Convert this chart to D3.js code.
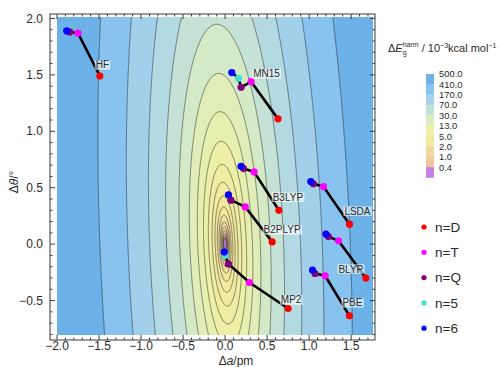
<!DOCTYPE html>
<html>
<head>
<meta charset="utf-8">
<script src="https://cdn.jsdelivr.net/npm/d3@7"></script>
<style>
  body { margin: 0; background: #fff; }
  svg text { font-family: "Liberation Sans", Arial, Helvetica, sans-serif; fill: #2a2a2a; }
</style>
</head>
<body>
<div id="chart"></div>
<script>
(function(){

  //////////////////////// data ////////////////////////

  var methods = ["HF", "MN15", "B3LYP", "B2PLYP", "MP2", "LSDA", "BLYP", "PBE"];
  var basisNames = ["n=D", "n=T", "n=Q", "n=5", "n=6"];
  var basisColors = ["#ff0000", "#ff00ff", "#800080", "#40e0d0", "#0000ff"];

  // Δa / pm and Δθ / degree for each method, one pair of arrays per basis set
  var daD = [-1.49, 0.63, 0.64, 0.56, 0.75, 1.48, 1.675, 1.48];
  var dtD = [1.49, 1.11, 0.30, 0.02, -0.57, 0.177, -0.30, -0.635];
  var daT = [-1.75, 0.31, 0.345, 0.24, 0.29, 1.17, 1.35, 1.19];
  var dtT = [1.87, 1.44, 0.64, 0.33, -0.34, 0.51, 0.03, -0.28];
  var daQ = [-1.85, 0.19, 0.22, 0.07, 0.04, 1.05, 1.23, 1.07];
  var dtQ = [1.88, 1.39, 0.67, 0.39, -0.175, 0.535, 0.067, -0.26];
  var da5 = [null, 0.16, null, null, 0.0, null, null, null];
  var dt5 = [null, 1.47, null, null, -0.10, null, null, null];
  var da6 = [-1.885, 0.08, 0.19, 0.04, -0.01, 1.02, 1.20, 1.04];
  var dt6 = [1.89, 1.52, 0.69, 0.437, -0.07, 0.555, 0.09, -0.23];

  // colour bar: band edges (10^-3 kcal/mol) and the colour of each band
  var legendEdges = [0.4, 1.0, 2.0, 5.0, 13.0, 30.0, 70.0, 170.0, 410.0, 500.0];
  var legendColors = ["#c47fe8", "#efc6a2", "#f2d89e", "#f3e99e", "#edf0a6",
                      "#dcecbd", "#c5e2d6", "#a8d3ea", "#88c2ef", "#6cb1e8"];

  // iso-lines: ellipse size (pm^2) of each ring and the energy it carries
  var ringQ = [0.000242, 0.000402, 0.000667, 0.00111, 0.00184, 0.00305, 0.00507, 0.00841,
               0.0140, 0.0232, 0.0385, 0.0639, 0.106, 0.176, 0.292, 0.485, 0.806, 1.337, 2.22];
  var ringE = [0.4, 0.55, 0.75, 1.0, 1.3, 1.7, 2.2, 2.9, 3.8, 5, 6.5, 9, 13, 20, 35, 60, 100, 170, 410];

  // shape of the ellipses: Δθ is 13x softer than Δa, with a slight tilt
  var tilt = 0.05, stretch = 13;

  var xTicks = [-2.0, -1.5, -1.0, -0.5, 0.0, 0.5, 1.0, 1.5];
  var yTicks = [-0.5, 0.0, 0.5, 1.0, 1.5, 2.0];

  // where the method name sits, in px from its n=D point
  var labelOffsets = [[2.6, -11], [-11.5, -45], [9, -13], [10, -12], [3, -8.5], [8, -13], [-15, -9], [3, -13]];

  //////////////////////// layout ////////////////////////

  var W = 499, H = 367;
  var frame = {left: 50, right: 375, top: 14, bottom: 340};

  var svg = d3.select("#chart").append("svg")
      .attr("width", W)
      .attr("height", H);

  var x = d3.scaleLinear().domain([-2.0, 1.76]).range([57, 373]);
  var y = d3.scaleLinear().domain([-0.805, 2.01]).range([335, 17.3]);

  function spread(a, t) {
    var u = a + tilt * t;
    return u * u + t * t / stretch;
  }

  // band colours come from a log scale through the legend band centres
  var mids = legendEdges.slice(0, -1).map(function(e, i){ return Math.sqrt(e * legendEdges[i + 1]); });
  var colorScale = d3.scaleLog().domain(mids).range(legendColors.slice(1)).clamp(true);

  //////////////////////// contour plot ////////////////////////

  svg.append("clipPath").attr("id", "plotClip")
    .append("rect")
      .attr("x", x.range()[0]).attr("y", y.range()[1])
      .attr("width", x.range()[1] - x.range()[0])
      .attr("height", y.range()[0] - y.range()[1]);

  // sample on a grid a bit wider than the plot, so the outer ring edges get clipped away
  var step = 0.5, pad = 3;
  var gx0 = x.range()[0] - pad, gy0 = y.range()[1] - pad;
  var nx = Math.ceil((x.range()[1] - x.range()[0] + 2 * pad) / step);
  var ny = Math.ceil((y.range()[0] - y.range()[1] + 2 * pad) / step);
  var values = new Float64Array(nx * ny);
  for (var j = 0; j < ny; j++) {
    var t = y.invert(gy0 + (j + 0.5) * step);
    for (var i = 0; i < nx; i++) {
      values[j * nx + i] = spread(x.invert(gx0 + (i + 0.5) * step), t);
    }
  }

  var contours = d3.contours().size([nx, ny]).thresholds(ringQ)(values);
  var gridPath = d3.geoPath(d3.geoIdentity().scale(step).translate([gx0, gy0]));

  var plot = svg.append("g").attr("clip-path", "url(#plotClip)");

  plot.append("rect")
      .attr("x", gx0).attr("y", gy0)
      .attr("width", nx * step).attr("height", ny * step)
      .attr("fill", legendColors[0]);

  plot.selectAll(".band")
      .data(contours)
    .enter().append("path")
      .attr("class", "band")
      .attr("d", gridPath)
      .attr("fill", function(d, i) {
        var hi = i + 1 < ringE.length ? ringE[i + 1] : 500;
        return colorScale(Math.sqrt(ringE[i] * hi));
      });

  plot.selectAll(".iso")
      .data(contours)
    .enter().append("path")
      .attr("class", "iso")
      .attr("d", gridPath)
      .attr("fill", "none")
      .attr("stroke", "#262626")
      .attr("stroke-opacity", 0.75)
      .attr("stroke-width", 0.7);

  //////////////////////// frame + ticks ////////////////////////

  var axisG = svg.append("g");
  axisG.append("rect")
      .attr("x", frame.left).attr("y", frame.top)
      .attr("width", frame.right - frame.left)
      .attr("height", frame.bottom - frame.top)
      .attr("fill", "none")
      .attr("stroke", "#3a3a3a")
      .attr("stroke-width", 1);

  function isMajor(v) { return Math.abs(v * 2 - Math.round(v * 2)) < 1e-6; }

  var xMinor = d3.range(-20, 18).map(function(k){ return k / 10; });
  var yMinor = d3.range(-8, 21).map(function(k){ return k / 10; });

  xMinor.forEach(function(v){
    var len = isMajor(v) ? 5 : 2.5, px = x(v);
    axisG.append("line").attr("x1", px).attr("x2", px)
        .attr("y1", frame.bottom).attr("y2", frame.bottom - len)
        .attr("stroke", "#3a3a3a");
    axisG.append("line").attr("x1", px).attr("x2", px)
        .attr("y1", frame.top).attr("y2", frame.top + len)
        .attr("stroke", "#3a3a3a");
  });
  yMinor.forEach(function(v){
    var len = isMajor(v) ? 5 : 2.5, py = y(v);
    axisG.append("line").attr("y1", py).attr("y2", py)
        .attr("x1", frame.left).attr("x2", frame.left + len)
        .attr("stroke", "#3a3a3a");
    axisG.append("line").attr("y1", py).attr("y2", py)
        .attr("x1", frame.right).attr("x2", frame.right - len)
        .attr("stroke", "#3a3a3a");
  });

  var fmt = d3.format(".1f");
  axisG.selectAll(".xlab")
      .data(xTicks)
    .enter().append("text")
      .attr("x", function(d){ return x(d); })
      .attr("y", 350)
      .attr("text-anchor", "middle")
      .style("font-size", "12px")
      .text(fmt);

  axisG.selectAll(".ylab")
      .data(yTicks)
    .enter().append("text")
      .attr("x", 43)
      .attr("y", function(d){ return y(d) + 4.2; })
      .attr("text-anchor", "end")
      .style("font-size", "12px")
      .text(fmt);

  var xt = axisG.append("text")
      .attr("x", 236).attr("y", 365)
      .attr("text-anchor", "middle")
      .style("font-size", "12px");
  xt.append("tspan").text("Δ");
  xt.append("tspan").style("font-style", "italic").text("a");
  xt.append("tspan").text("/pm");

  var yt = axisG.append("text")
      .attr("transform", "translate(18,182) rotate(-90)")
      .attr("text-anchor", "middle")
      .style("font-size", "12px");
  yt.append("tspan").text("Δ");
  yt.append("tspan").style("font-style", "italic").text("θ");
  yt.append("tspan").text("/°");

  //////////////////////// method paths ////////////////////////

  var seriesA = [daD, daT, daQ, da5, da6];
  var seriesT = [dtD, dtT, dtQ, dt5, dt6];

  var line = d3.line()
      .x(function(d){ return x(d[0]); })
      .y(function(d){ return y(d[1]); });

  var chains = methods.map(function(m, mi){
    var pts = [];
    seriesA.forEach(function(arr, bi){
      if (arr[mi] !== null) pts.push([arr[mi], seriesT[bi][mi], bi]);
    });
    return pts;
  });

  var marks = svg.append("g");
  marks.selectAll(".chain")
      .data(chains)
    .enter().append("path")
      .attr("class", "chain")
      .attr("d", line)
      .attr("fill", "none")
      .attr("stroke", "#000")
      .attr("stroke-width", 2.6);

  seriesA.forEach(function(arr, bi){
    marks.selectAll(".pt" + bi)
        .data(methods.map(function(m, mi){ return [arr[mi], seriesT[bi][mi]]; })
                     .filter(function(d){ return d[0] !== null; }))
      .enter().append("circle")
        .attr("class", "pt" + bi)
        .attr("cx", function(d){ return x(d[0]); })
        .attr("cy", function(d){ return y(d[1]); })
        .attr("r", 3.6)
        .attr("fill", basisColors[bi]);
  });

  // method names with a pale box behind
  methods.forEach(function(m, mi){
    var cx = x(daD[mi]) + labelOffsets[mi][0],
        cy = y(dtD[mi]) + labelOffsets[mi][1];
    var g = marks.append("g");
    var txt = g.append("text")
        .attr("x", cx).attr("y", cy + 3.5)
        .attr("text-anchor", "middle")
        .style("font-size", "10px")
        .text(m);
    var bb = txt.node().getBBox();
    g.insert("rect", "text")
        .attr("x", bb.x - 1).attr("y", cy - 4.8)
        .attr("width", bb.width + 2).attr("height", 9.6)
        .attr("fill", "#fff")
        .attr("fill-opacity", 0.6);
  });

  //////////////////////// colour bar ////////////////////////

  var bar = svg.append("g");
  var barX = 426, barW = 8, barTop = 74, bandH = 10.35;
  var bands = legendColors.slice().reverse();   // top band first
  var barLabels = legendEdges.slice().reverse();

  bar.selectAll(".cb")
      .data(bands)
    .enter().append("rect")
      .attr("x", barX)
      .attr("y", function(d, i){ return barTop + i * bandH; })
      .attr("width", barW)
      .attr("height", bandH + 0.3)
      .attr("fill", function(d){ return d; });

  bar.selectAll(".cbl")
      .data(barLabels)
    .enter().append("text")
      .attr("x", 439)
      .attr("y", function(d, i){ return barTop + i * bandH + 3.4; })
      .style("font-size", "9.4px")
      .text(fmt);

  var title = bar.append("text")
      .attr("x", 388).attr("y", 52)
      .style("font-size", "11px");
  title.append("tspan").text("Δ");
  title.append("tspan").style("font-style", "italic").text("E");
  title.append("tspan").attr("dy", 3).style("font-size", "7px").text("g");
  title.append("tspan").attr("dx", -3.9).attr("dy", -8).style("font-size", "7px").text("harm");
  title.append("tspan").attr("dy", 5).text(" / 10");
  title.append("tspan").attr("dy", -4).style("font-size", "7px").text("−3");
  title.append("tspan").attr("dy", 4).text("kcal mol");
  title.append("tspan").attr("dy", -4).style("font-size", "7px").text("−1");

  //////////////////////// basis-set legend ////////////////////////

  var leg = svg.append("g");
  basisNames.forEach(function(n, i){
    var ly = 227 + i * 25.3;
    leg.append("circle").attr("cx", 424).attr("cy", ly).attr("r", 2.6).attr("fill", basisColors[i]);
    leg.append("text").attr("x", 435).attr("y", ly + 4.8)
        .style("font-size", "13.5px").text(n);
  });

})();
</script>
</body>
</html>
